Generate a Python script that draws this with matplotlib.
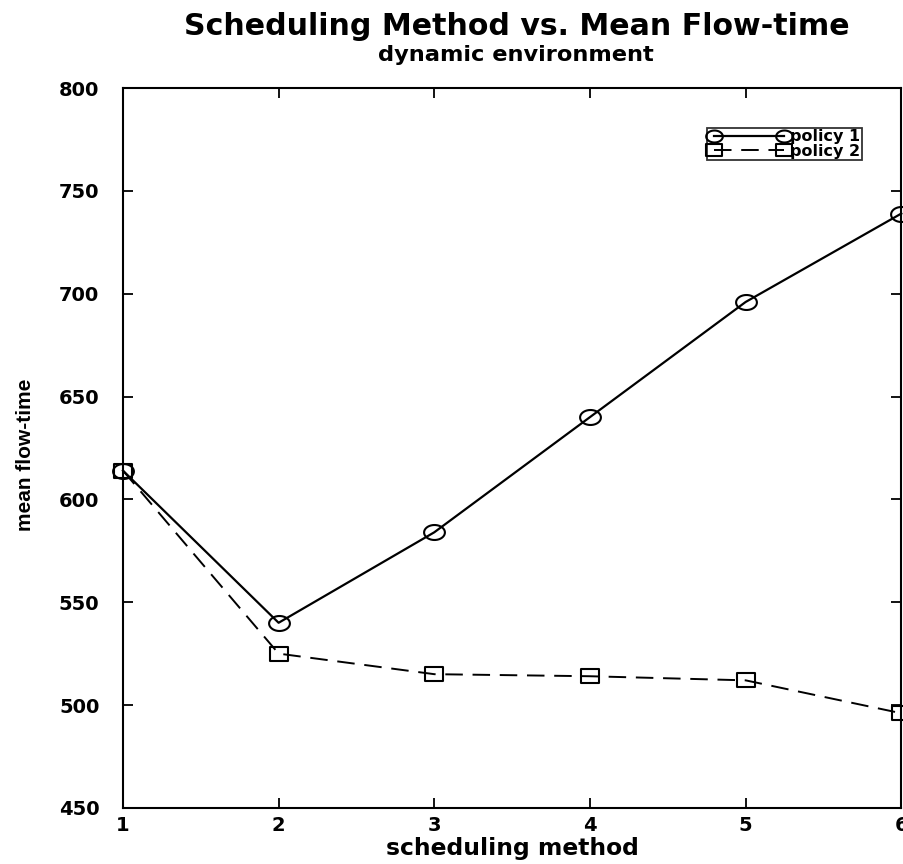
import matplotlib
matplotlib.use('Agg')
import matplotlib.pyplot as plt
import numpy as np
from matplotlib.path import Path

# scheduling methods and mean flow-time per policy
methods = [1, 2, 3, 4, 5, 6]
policy1 = [614, 540, 584, 640, 696, 739]
policy2 = [614, 525, 515, 514, 512, 496]

y_ticks = [450, 500, 550, 600, 650, 700, 750, 800]


def ellipse_marker(rx=1.0, ry=0.72, n=40):
    t = np.linspace(0, 2 * np.pi, n)
    verts = np.column_stack([rx * np.cos(t), ry * np.sin(t)])
    return Path(verts, closed=True)


def rect_marker(rx=1.0, ry=0.75):
    verts = [(-rx, -ry), (rx, -ry), (rx, ry), (-rx, ry), (-rx, -ry)]
    return Path(verts, closed=True)


plt.rcParams['font.family'] = ['DejaVu Sans']
plt.rcParams['font.weight'] = 'bold'

fig = plt.figure(figsize=(9.04, 8.64), dpi=100)
ax = fig.add_axes([0.136, 0.065, 0.861, 0.833])

ax.plot(methods, policy1, color='black', lw=1.6, ls='-',
        marker=ellipse_marker(), markersize=15, markerfacecolor='none',
        markeredgecolor='black', markeredgewidth=1.5, label='policy 1',
        clip_on=False)
ax.plot(methods, policy2, color='black', lw=1.4, ls=(0, (9, 5)),
        marker=rect_marker(), markersize=13, markerfacecolor='none',
        markeredgecolor='black', markeredgewidth=1.5, label='policy 2',
        clip_on=False)

ax.set_xlim(1, 6)
ax.set_ylim(450, 800)
ax.set_xticks(methods)
ax.set_yticks(y_ticks)

for s in ax.spines.values():
    s.set_linewidth(1.5)

ax.tick_params(direction='in', length=7, width=1.3, top=True, right=True)
ax.tick_params(axis='y', pad=17, labelsize=14)
ax.tick_params(axis='x', pad=6, labelsize=14)

ax.set_xlabel('scheduling method', fontsize=16.8, fontweight='bold', labelpad=1)
ax.set_ylabel('mean flow-time', fontsize=15, fontweight='bold',
              family='Liberation Sans')
ax.yaxis.set_label_coords(-0.113, 0.49)

fig.text(0.572, 0.9595, 'Scheduling Method vs. Mean Flow-time',
         ha='center', va='baseline', fontsize=21.6, fontweight='bold')
fig.text(0.571, 0.9294, 'dynamic environment',
         ha='center', va='baseline', fontsize=16.2, fontweight='bold')

leg = ax.legend(loc='upper right', bbox_to_anchor=(0.9535, 0.852),
                bbox_transform=fig.transFigure, borderaxespad=0,
                fancybox=False, shadow=False, numpoints=2,
                handlelength=5.0, handletextpad=0.1, labelspacing=-0.05,
                borderpad=0.1, frameon=True,
                prop={'weight': 'bold', 'size': 11.5})
leg.get_frame().set_edgecolor('black')
leg.get_frame().set_linewidth(1.3)
for h in leg.legend_handles:
    h.set_markersize(12)

fig.savefig('out.png', dpi=100)
